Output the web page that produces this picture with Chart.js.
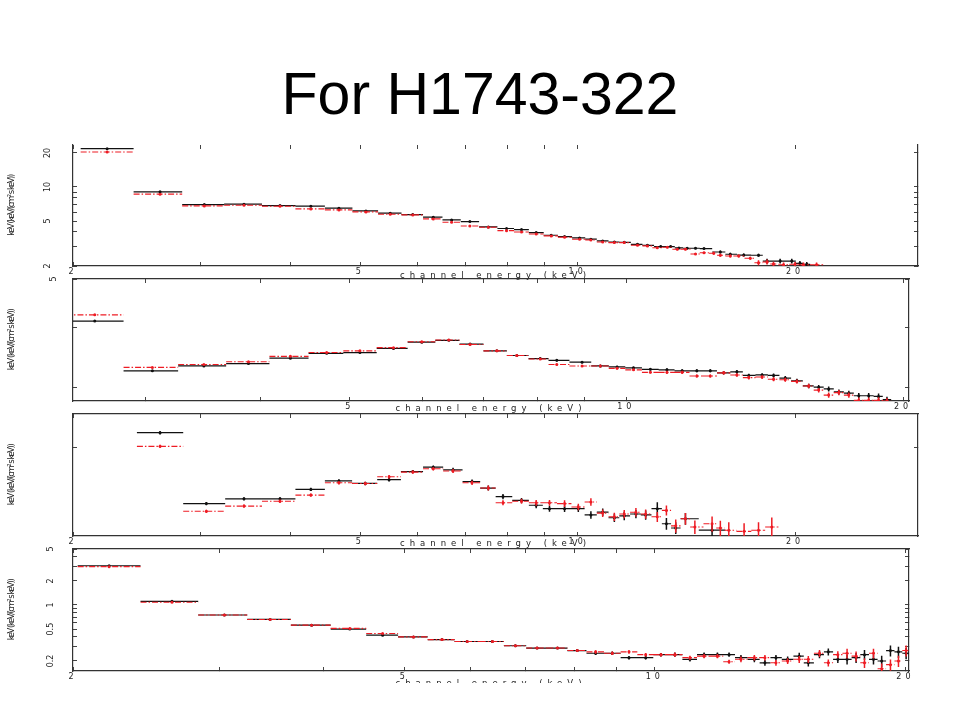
<!DOCTYPE html>
<html>
<head>
<meta charset="utf-8">
<script src="https://cdn.jsdelivr.net/npm/chart.js@4.4.0/dist/chart.umd.min.js"></script>
<style>
  body { margin: 0; background: #fff; width: 960px; height: 720px; position: relative; overflow: hidden; }
  #title { position: absolute; left: 0; top: 65px; width: 960px; text-align: center;
           font-family: 'Liberation Sans', Arial, sans-serif; font-size: 59px; line-height: 59px; color: #000; }
  .panel { position: absolute; left: 0; width: 960px; overflow: hidden; }
  canvas { display: block; }
</style>
</head>
<body>
<div id="title">For H1743-322</div>
<div class="panel" style="top:130px;height:155px"><canvas id="p1" width="960" height="155"></canvas></div>
<div class="panel" style="top:272px;height:145px"><canvas id="p2" width="960" height="145"></canvas></div>
<div class="panel" style="top:407px;height:145px"><canvas id="p3" width="960" height="145"></canvas></div>
<div class="panel" style="top:542px;height:141px"><canvas id="p4" width="960" height="147"></canvas></div>
<script>
// panel 1
const p1BlackE = [2.23,2.64,3.04,3.45,3.87,4.27,4.67,5.09,5.50,5.91,6.31,6.69,7.09,7.52,7.97,8.36,8.76,9.19,9.59,10.06,
  10.43,10.83,11.24,11.60,12.10,12.49,13.03,13.45,13.81,14.18,14.56,14.96,15.76,16.27,16.98,17.80,18.29,19.07,19.79,20.31,20.76];
const p1BlackF = [21.8,9.06,6.99,7.04,6.85,6.76,6.49,6.14,5.86,5.70,5.40,5.11,4.94,4.43,4.29,4.20,3.95,3.74,3.64,3.54,
  3.45,3.33,3.26,3.24,3.11,3.05,2.97,2.97,2.89,2.87,2.87,2.85,2.66,2.54,2.50,2.49,2.21,2.21,2.21,2.11,2.07];
const p1BlackErr = [0.01,0.01,0.01,0.01,0.01,0.01,0.01,0.01,0.01,0.01,0.01,0.01,0.01,0.012,0.012,0.012,0.012,0.012,0.012,0.012,
  0.015,0.015,0.015,0.015,0.015,0.015,0.02,0.02,0.02,0.02,0.02,0.02,0.03,0.03,0.03,0.03,0.05,0.05,0.05,0.05,0.05];
const p1RedE = [2.23,2.64,3.04,3.45,3.87,4.27,4.67,5.09,5.50,5.91,6.31,6.69,7.09,7.52,7.97,8.36,8.76,9.19,9.59,10.06,
  10.43,10.83,11.24,11.60,12.10,12.49,12.89,13.31,13.74,14.10,14.56,14.96,15.43,15.76,16.27,16.71,17.34,17.80,18.29,18.67,
  19.28,20.00,20.54,21.42];
const p1RedF = [20.4,8.64,6.80,6.90,6.76,6.40,6.27,6.02,5.74,5.66,5.22,4.88,4.52,4.40,4.11,4.00,3.84,3.69,3.59,3.45,
  3.40,3.26,3.22,3.22,3.05,3.01,2.90,2.93,2.81,2.81,2.55,2.62,2.59,2.49,2.45,2.45,2.34,2.14,2.17,2.08,
  2.05,2.07,2.05,2.05];
const p1RedErr = [0.01,0.01,0.01,0.01,0.01,0.01,0.01,0.01,0.01,0.01,0.01,0.01,0.01,0.012,0.012,0.012,0.012,0.012,0.012,0.012,
  0.015,0.015,0.015,0.015,0.015,0.015,0.02,0.02,0.02,0.02,0.02,0.02,0.03,0.03,0.03,0.03,0.03,0.05,0.05,0.05,
  0.05,0.05,0.05,0.05];

// panel 2
const p2E = [2.64,3.05,3.47,3.88,4.31,4.72,5.13,5.58,5.99,6.41,6.76,7.23,7.60,8.06,8.40,8.95,9.37,9.77,10.18,10.62,
  11.07,11.50,11.93,12.34,12.76,13.19,13.59,14.05,14.46,14.89,15.33,15.79,16.19,16.60,17.03,17.46,17.90,18.35,18.81,19.21];
const p2BlackF = [3.30,2.02,2.12,2.17,2.29,2.40,2.42,2.52,2.68,2.73,2.63,2.46,2.35,2.28,2.24,2.20,2.12,2.10,2.08,2.05,
  2.04,2.02,2.02,2.02,1.98,2.00,1.93,1.94,1.93,1.88,1.83,1.74,1.72,1.69,1.64,1.62,1.58,1.58,1.57,1.52];
const p2RedF = [3.51,2.09,2.15,2.21,2.33,2.42,2.46,2.54,2.69,2.74,2.62,2.46,2.35,2.27,2.15,2.12,2.12,2.07,2.04,1.99,
  1.99,1.99,1.92,1.92,1.98,1.94,1.89,1.90,1.86,1.85,1.82,1.74,1.67,1.59,1.63,1.59,1.51,1.51,1.51,1.50];
const p2Err = [0.005,0.005,0.005,0.005,0.005,0.005,0.006,0.006,0.006,0.006,0.008,0.008,0.01,0.01,0.01,0.01,0.012,0.012,0.012,0.012,
  0.015,0.015,0.015,0.015,0.015,0.018,0.018,0.018,0.02,0.02,0.02,0.022,0.022,0.025,0.025,0.025,0.028,0.028,0.03,0.03];

// panel 3
const p3BlackE = [2.64,3.06,3.45,3.87,4.27,4.67,5.08,5.48,5.91,6.31,6.72,7.14,7.52,7.88,8.36,8.76,9.14,9.59,10.02,10.43,
  10.83,11.24,11.60,12.04,12.42,12.89,13.27,13.67,14.10,15.35];
const p3BlackF = [2.40,1.03,1.09,1.09,1.22,1.35,1.31,1.37,1.51,1.59,1.54,1.34,1.24,1.12,1.07,1.01,0.97,0.97,0.97,0.90,
  0.93,0.87,0.89,0.91,0.90,0.97,0.81,0.77,0.86,0.75];
const p3BlackErr = [0.02,0.02,0.02,0.02,0.02,0.02,0.02,0.02,0.02,0.02,0.025,0.025,0.03,0.03,0.03,0.035,0.035,0.04,0.04,0.045,
  0.045,0.05,0.05,0.05,0.055,0.08,0.07,0.07,0.07,0.08];
const p3RedE = [2.64,3.06,3.45,3.87,4.27,4.67,5.08,5.48,5.91,6.31,6.72,7.14,7.52,7.88,8.36,8.76,9.14,9.59,10.02,10.43,
  10.83,11.24,11.60,12.04,12.42,12.89,13.27,13.67,14.10,14.53,15.35,15.76,16.19,17.0,17.8,18.57];
const p3RedF = [2.04,0.94,1.00,1.06,1.14,1.32,1.31,1.42,1.50,1.56,1.52,1.32,1.24,1.04,1.06,1.04,1.04,1.03,0.99,1.05,
  0.92,0.88,0.91,0.93,0.91,0.88,0.95,0.79,0.86,0.78,0.81,0.77,0.75,0.74,0.75,0.78];
const p3RedErr = [0.02,0.02,0.02,0.02,0.02,0.02,0.02,0.02,0.02,0.02,0.025,0.025,0.03,0.03,0.03,0.035,0.035,0.04,0.04,0.045,
  0.045,0.05,0.05,0.05,0.055,0.06,0.06,0.08,0.07,0.08,0.09,0.09,0.10,0.10,0.10,0.12];

// panel 4
const p4E = [2.21,2.63,3.04,3.45,3.87,4.30,4.71,5.13,5.55,5.95,6.38,6.80,7.22,7.64,8.07,8.49,8.89,9.31,9.75,10.17,
  10.57,11.02,11.46,11.89,12.28,12.69,13.17,13.56,13.98,14.44,14.91,15.29,15.77,16.16,16.59,17.02,17.45,17.86,18.31,18.73,
  19.19,19.62,20.04];
const p4BlackF = [3.09,1.11,0.75,0.66,0.56,0.50,0.42,0.40,0.37,0.35,0.35,0.31,0.29,0.29,0.27,0.25,0.25,0.22,0.22,0.24,
  0.24,0.21,0.24,0.24,0.24,0.22,0.21,0.19,0.22,0.21,0.23,0.19,0.24,0.26,0.21,0.21,0.22,0.24,0.21,0.20,
  0.27,0.26,0.25];
const p4RedF = [3.01,1.08,0.75,0.66,0.56,0.51,0.44,0.40,0.37,0.35,0.35,0.31,0.29,0.29,0.27,0.26,0.25,0.26,0.24,0.24,
  0.24,0.22,0.23,0.23,0.196,0.21,0.22,0.22,0.19,0.20,0.21,0.21,0.25,0.19,0.24,0.25,0.23,0.19,0.25,0.16,
  0.18,0.20,0.27];
const p4Err = [0.01,0.01,0.01,0.01,0.01,0.015,0.015,0.015,0.015,0.015,0.03,0.03,0.03,0.03,0.03,0.05,0.05,0.05,0.05,0.05,
  0.06,0.06,0.06,0.06,0.06,0.08,0.08,0.08,0.08,0.08,0.1,0.1,0.1,0.1,0.1,0.14,0.14,0.14,0.14,0.16,
  0.16,0.16,0.16];

// axes
const xTicksFrom2 = [2,3,4,5,6,7,8,9,10,20];
const xTicksFrom3 = [3,4,5,6,7,8,9,10,20];
const xLabelsFrom2 = [2,5,10,20];
const xLabelsP2 = [5,10,20];
const p1YTicks = [2,3,4,5,6,7,8,9,10,20];
const p1YLabels = [2,5,10,20];
const p2YTicks = [5,3.1,1.72];
const p2YLabels = [5];
const p3YTicks = [2];
const p3YLabels = [];
const p4YTicks = [0.2,0.3,0.4,0.5,0.6,0.7,0.8,0.9,1,2,3,4,5];
const p4YLabels = [0.2,0.5,1,2,5];
const xTitle = 'channel energy (keV)';
const yTitle = 'keV (keV/(cm\u00b2 s keV))';

const BLACK = '#111';
const RED = '#ee1c24';

Chart.defaults.font.family = 'DejaVu Sans';

// letter spacing is set just before each piece of text is drawn
function spaced(px, color) {
  return function (ctx) {
    ctx.chart.ctx.letterSpacing = px;
    return color;
  };
}

function series(E, F, err, color, dashed) {
  const h = [], v = [], c = [];
  for (let i = 0; i < E.length; i++) {
    const hi = i < E.length - 1 ? Math.sqrt(E[i] * E[i + 1]) : E[i] * Math.sqrt(E[i] / E[i - 1]);
    const lo = i > 0 ? Math.sqrt(E[i - 1] * E[i]) : E[i] * Math.sqrt(E[i] / E[i + 1]);
    h.push({x: lo, y: F[i]}, {x: hi, y: F[i]}, {x: hi, y: null});
    v.push({x: E[i], y: F[i] * (1 - err[i])}, {x: E[i], y: F[i] * (1 + err[i])}, {x: E[i], y: null});
    c.push({x: E[i], y: F[i]});
  }
  return [
    {data: h, borderColor: color, borderWidth: dashed ? 1.1 : 1.2, borderDash: dashed ? [6, 2, 1.5, 2] : [], pointRadius: 0},
    {data: v, borderColor: color, borderWidth: 1.5, pointRadius: 0},
    {data: c, showLine: false, pointRadius: 1.5, pointBackgroundColor: color, pointBorderWidth: 0}
  ];
}

function pick(list) {
  return function (value) {
    return list.some(l => Math.abs(l - value) < 1e-9) ? String(value) : '';
  };
}

function setTicks(list) {
  return function (scale) {
    scale.ticks = list.map(v => ({value: v}));
  };
}

// fixed box size, and no extra room asked for by the labels
function fixSize(w, h) {
  return function (s) {
    if (w !== null) s.width = w;
    if (h !== null) s.height = h;
    s.paddingTop = 0; s.paddingBottom = 0; s.paddingLeft = 0; s.paddingRight = 0;
  };
}

function makePanel(id, p) {
  const grid = {drawOnChartArea: false, tickLength: -4, tickColor: '#444', tickWidth: 1};
  const border = {color: '#333', width: 1.2};
  new Chart(document.getElementById(id), {
    type: 'line',
    data: {datasets: [].concat(p.red, p.black)},
    options: {
      responsive: false,
      animation: false,
      devicePixelRatio: 1,
      events: [],
      plugins: {legend: {display: false}, tooltip: {enabled: false}},
      layout: {autoPadding: false, padding: {top: p.padTop, right: 960 - p.right, bottom: p.padBottom, left: 0}},
      scales: {
        x: {
          type: 'logarithmic', position: 'bottom', min: p.xMin, max: p.xMax,
          afterBuildTicks: setTicks(p.xTicks),
          afterFit: fixSize(null, p.xh),
          grid: grid, border: border,
          ticks: {callback: pick(p.xLabels), autoSkip: false, minRotation: 0, maxRotation: 0, padding: 5,
                  font: {size: 8}, color: spaced('4px', '#222')},
          title: {display: true, text: xTitle, font: {size: 8.5}, padding: 0, color: spaced('5px', '#222')}
        },
        xTop: {
          type: 'logarithmic', position: 'top', min: p.xMin, max: p.xMax,
          afterBuildTicks: setTicks(p.xTicks),
          afterFit: fixSize(null, 0),
          grid: grid, border: {color: '#333', width: 1.2, display: p.topBorder},
          ticks: {display: false}
        },
        y: {
          type: 'logarithmic', position: 'left', min: p.yMin, max: p.yMax,
          afterBuildTicks: setTicks(p.yTicks),
          afterFit: fixSize(73, null),
          grid: grid, border: border,
          ticks: {callback: pick(p.yLabels), autoSkip: false, minRotation: 90, maxRotation: 90,
                  crossAlign: 'center', padding: p.yPad, font: {size: 8}, color: spaced('0px', '#222')},
          title: {display: true, text: yTitle, font: {size: 8.5}, padding: {top: 7, bottom: 0},
                  color: spaced('-1.5px', '#222')}
        },
        yRight: {
          type: 'logarithmic', position: 'right', min: p.yMin, max: p.yMax,
          afterBuildTicks: setTicks(p.yTicks),
          afterFit: fixSize(0, null),
          grid: grid, border: border,
          ticks: {display: false}
        }
      }
    }
  });
}

makePanel('p1', {
  black: series(p1BlackE, p1BlackF, p1BlackErr, BLACK, false),
  red: series(p1RedE, p1RedF, p1RedErr, RED, true),
  xMin: 2, xMax: 29.6, xTicks: xTicksFrom2, xLabels: xLabelsFrom2,
  yMin: 2, yMax: 23.5, yTicks: p1YTicks, yLabels: p1YLabels, yPad: 23.5,
  padTop: 15, padBottom: 4, xh: 15, right: 918, topBorder: false
});
makePanel('p2', {
  black: series(p2E, p2BlackF, p2Err, BLACK, false),
  red: series(p2E, p2RedF, p2Err, RED, true),
  xMin: 2.5, xMax: 20.3, xTicks: xTicksFrom3, xLabels: xLabelsP2,
  yMin: 1.5, yMax: 5, yTicks: p2YTicks, yLabels: p2YLabels, yPad: 20.5,
  padTop: 7, padBottom: 3, xh: 13, right: 909, topBorder: true
});
makePanel('p3', {
  black: series(p3BlackE, p3BlackF, p3BlackErr, BLACK, false),
  red: series(p3RedE, p3RedF, p3RedErr, RED, true),
  xMin: 2, xMax: 29.6, xTicks: xTicksFrom2, xLabels: xLabelsFrom2,
  yMin: 0.73, yMax: 3, yTicks: p3YTicks, yLabels: p3YLabels, yPad: 20,
  padTop: 7, padBottom: 3, xh: 13, right: 918, topBorder: true
});
makePanel('p4', {
  black: series(p4E, p4BlackF, p4Err, BLACK, false),
  red: series(p4E, p4RedF, p4Err, RED, true),
  xMin: 2, xMax: 20.2, xTicks: xTicksFrom2, xLabels: xLabelsFrom2,
  yMin: 0.15, yMax: 5, yTicks: p4YTicks, yLabels: p4YLabels, yPad: 19.5,
  padTop: 7, padBottom: 0, xh: 18, right: 909, topBorder: true
});
</script>
</body>
</html>
